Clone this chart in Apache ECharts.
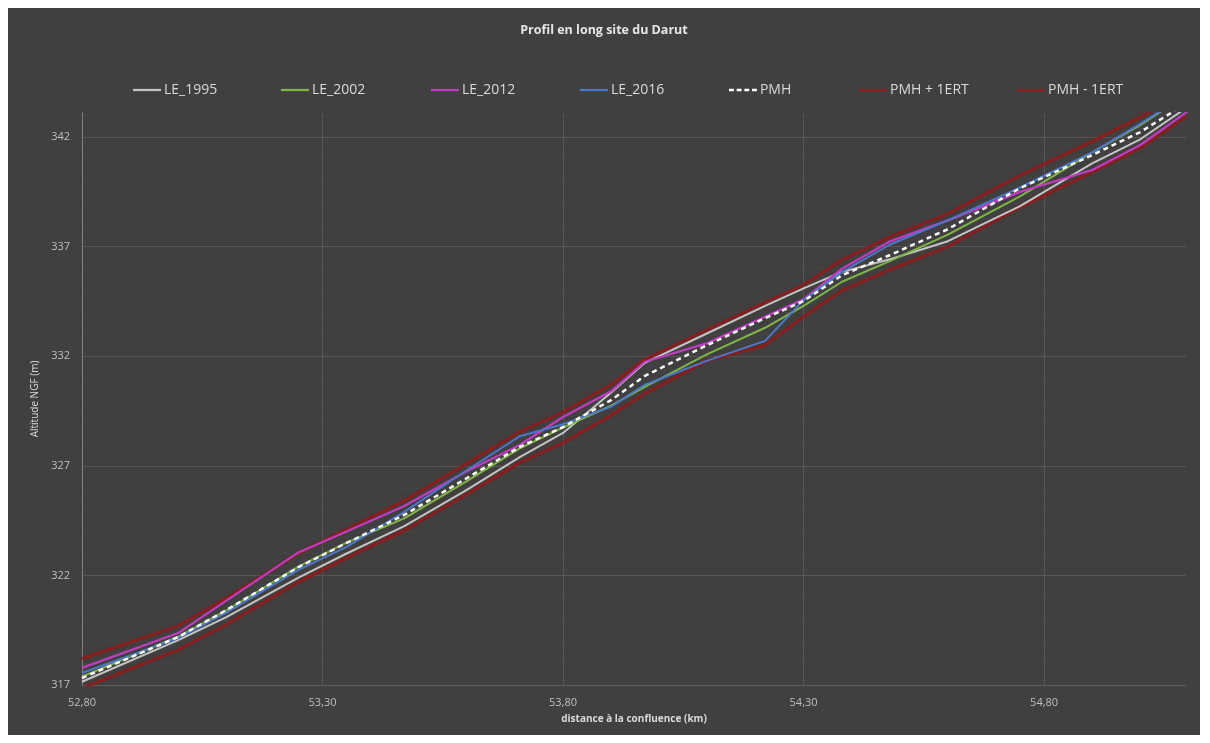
<!DOCTYPE html>
<html>
<head>
<meta charset="utf-8">
<script src="https://cdn.jsdelivr.net/npm/echarts@6/dist/echarts.min.js"></script>
<style>
  html, body { margin: 0; padding: 0; background: #ffffff; }
  #chart { position: absolute; left: 8px; top: 8px; width: 1192px; height: 727px; }
</style>
</head>
<body>
<div id="chart"></div>
<script>
// Distance to the confluence (km)
const distanceKm = [52.80, 53.00, 53.10, 53.25, 53.35, 53.47, 53.60, 53.71, 53.80, 53.90, 53.97,
                    54.10, 54.22, 54.30, 54.38, 54.48, 54.60, 54.75, 54.90, 55.00, 55.10];

// Water-line altitudes (m NGF) per survey
const le1995 = [317.15, 319.05, 320.10, 321.90, 323.00, 324.25, 325.90, 327.40, 328.50, 330.35, 331.70,
                333.05, 334.30, 335.10, 335.85, 336.43, 337.25, 338.85, 340.80, 341.90, 343.40];
const le2002 = [317.38, 319.20, 320.40, 322.40, 323.50, 324.60, 326.30, 327.80, 328.75, 329.75, 330.60,
                332.10, 333.30, 334.30, 335.40, 336.35, 337.55, 339.30, 341.30, 342.55, 344.00];
const le2012 = [317.78, 319.37, 320.85, 323.05, 324.00, 325.17, 326.75, 327.95, 329.23, 330.40, 331.75,
                332.60, 333.80, 334.60, 336.00, 337.25, 338.20, 339.50, 340.50, 341.64, 343.20];
const le2016 = [317.55, 319.14, 320.30, 322.25, 323.30, 324.90, 326.80, 328.35, 328.90, 329.70, 330.70,
                331.80, 332.70, 334.56, 335.85, 337.10, 338.20, 339.70, 341.30, 342.60, 344.00];

// Mean profile and its ±1 standard deviation envelope
const pmh      = [317.32, 319.19, 320.42, 322.38, 323.48, 324.76, 326.44, 327.86, 328.77, 330.00, 331.10,
                  332.51, 333.74, 334.52, 335.70, 336.62, 337.80, 339.67, 341.18, 342.23, 343.60];
const pmhPlus  = [318.20, 319.70, 320.95, 323.00, 324.10, 325.40, 327.10, 328.55, 329.45, 330.70, 331.85,
                  333.20, 334.45, 335.25, 336.40, 337.45, 338.50, 340.25, 341.80, 342.90, 344.20];
const pmhMinus = [316.85, 318.60, 319.75, 321.70, 322.80, 324.05, 325.70, 327.15, 328.05, 329.30, 330.30,
                  331.80, 332.50, 333.80, 335.00, 335.95, 337.00, 338.80, 340.40, 341.50, 343.00];

const seriesNames = ['LE_1995', 'LE_2002', 'LE_2012', 'LE_2016', 'PMH', 'PMH + 1ERT', 'PMH - 1ERT'];
const yTickValues = [317, 322, 327, 332, 337, 342];

const pts = vals => distanceKm.map((x, i) => [x, vals[i]]);

const RED = '#921a1a';
const textCol = '#d9d9d9';
const gridCol = '#565656';
const colors = {
  'LE_1995': '#c4c4c4', 'LE_2002': '#7fb545', 'LE_2012': '#c03cc0', 'LE_2016': '#4d77c9',
  'PMH': '#ffffff', 'PMH + 1ERT': RED, 'PMH - 1ERT': RED
};

function lineSeries(name, vals, width, extra) {
  const color = colors[name];
  return Object.assign({
    name: name,
    type: 'line',
    data: pts(vals),
    symbol: 'none',
    smooth: false,
    clip: true,
    lineStyle: { color: color, width: width },
    itemStyle: { color: color },
    emphasis: { disabled: true }
  }, extra || {});
}

// legend glyphs: a plain stroke, or a dashed one for the mean profile
const solidIcon = 'path://M0,0 L30,0 L30,2.4 L0,2.4 Z';
const dashIcon = 'path://M0,0 L5,0 L5,2.6 L0,2.6 Z M8,0 L13,0 L13,2.6 L8,2.6 Z M16,0 L21,0 L21,2.6 L16,2.6 Z M24,0 L29,0 L29,2.6 L24,2.6 Z';

// one legend block per series, laid out in evenly spaced columns
const legendLefts = [120, 268, 418, 567, 716, 846, 1004];
const legends = seriesNames.map((n, i) => ({
  data: [{ name: n, icon: n === 'PMH' ? dashIcon : solidIcon, itemStyle: { color: colors[n] } }],
  left: legendLefts[i],
  top: 70,
  itemWidth: 28,
  itemHeight: 2.5,
  itemGap: 0,
  textStyle: { color: textCol, fontSize: 14, fontFamily: 'Open Sans, sans-serif', padding: [0, 0, 0, -2] },
  selectedMode: false
}));

const chart = echarts.init(document.getElementById('chart'), null, { renderer: 'canvas' });
chart.setOption({
  backgroundColor: '#404040',
  animation: false,
  title: {
    text: 'Profil en long site du Darut',
    left: 'center',
    top: 11,
    textStyle: { color: '#e6e6e6', fontSize: 12.5, fontWeight: 'bold', fontFamily: 'Open Sans, sans-serif' }
  },
  legend: legends,
  grid: { left: 74, right: 14, top: 105, bottom: 50 },
  xAxis: {
    type: 'value',
    min: 52.8,
    max: 55.095,
    interval: 0.5,
    name: 'distance à la confluence (km)',
    nameLocation: 'middle',
    nameGap: 29,
    nameTextStyle: { color: textCol, fontSize: 10, fontWeight: 'bold', fontFamily: 'Open Sans, sans-serif' },
    axisLine: { show: true, lineStyle: { color: '#5c5c5c', width: 1 } },
    axisTick: { show: false },
    axisLabel: {
      color: '#bfbfbf', fontSize: 11, margin: 12, showMaxLabel: false,
      fontFamily: 'Open Sans, sans-serif',
      formatter: v => v.toFixed(2).replace('.', ',')
    },
    splitLine: { show: true, lineStyle: { color: [gridCol, gridCol, gridCol, gridCol, gridCol, 'rgba(0,0,0,0)'], width: 1 } }
  },
  yAxis: {
    type: 'value',
    min: yTickValues[0],
    max: 343.1,
    interval: 5,
    name: 'Altitude NGF (m)',
    nameLocation: 'middle',
    nameGap: 34,
    nameTextStyle: { color: textCol, fontSize: 10, fontFamily: 'Open Sans, sans-serif' },
    axisLine: { show: true, lineStyle: { color: '#808080', width: 1 } },
    axisTick: { show: false },
    axisLabel: {
      color: '#bfbfbf', fontSize: 11, margin: 12, showMaxLabel: false,
      fontFamily: 'Open Sans, sans-serif',
      formatter: v => (yTickValues.indexOf(v) >= 0 ? String(v) : '')
    },
    splitLine: { show: true, lineStyle: { color: [gridCol, gridCol, gridCol, gridCol, gridCol, gridCol, 'rgba(0,0,0,0)'], width: 1 } },
    minorTick: { show: false, splitNumber: 5 },
    minorSplitLine: { show: true, lineStyle: { color: '#444444', width: 1 } }
  },
  series: [
    lineSeries('PMH + 1ERT', pmhPlus, 2, { lineStyle: { color: RED, width: 2, shadowColor: 'rgba(150,20,20,0.8)', shadowBlur: 3 } }),
    lineSeries('PMH - 1ERT', pmhMinus, 2, { lineStyle: { color: RED, width: 2, shadowColor: 'rgba(150,20,20,0.8)', shadowBlur: 3 } }),
    lineSeries('LE_1995', le1995, 2),
    lineSeries('LE_2002', le2002, 2),
    lineSeries('LE_2012', le2012, 2.2),
    lineSeries('LE_2016', le2016, 2),
    lineSeries('PMH', pmh, 2.5, { lineStyle: { color: '#ffffff', width: 2.5, type: [5, 4] } })
  ]
});
</script>
</body>
</html>
